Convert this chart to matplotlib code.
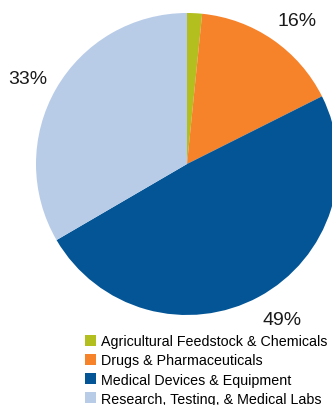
import matplotlib
matplotlib.use("Agg")
import matplotlib.pyplot as plt
from matplotlib.patches import Patch

categories = ["Agricultural Feedstock & Chemicals", "Drugs & Pharmaceuticals",
              "Medical Devices & Equipment", "Research, Testing, & Medical Labs"]
values = [1.6, 16.0, 49.0, 33.4]
labels = ["", "16%", "49%", "33%"]
colors = ["#B3BE1F", "#F6822A", "#035596", "#B8CCE8"]

plt.rcParams['font.family'] = ['Liberation Sans', 'DejaVu Sans']

W, H = 332, 406
fig = plt.figure(figsize=(W / 100, H / 100), dpi=100)
cx, cy, r = 187, 165, 151
ax = fig.add_axes([(cx - r) / W, (H - cy - r) / H, 2 * r / W, 2 * r / H])
wedges, texts = ax.pie(values, labels=labels, colors=colors, startangle=90,
                       counterclock=False, labeldistance=1.2, radius=1,
                       textprops=dict(fontsize=14, color="#1a1a1a"))
# small pixel nudges of the label positions (dx, dy in px, y up)
nudges = [(0, 0), (7, -6), (9, 4), (-2, -5)]
for t, (dx, dy) in zip(texts, nudges):
    x, y = t.get_position()
    t.set_position((x + dx / r, y + dy / r))
    t.set_ha("center")
    t.set_va("center")
ax.set_xlim(-1, 1)
ax.set_ylim(-1, 1)
ax.set_aspect("equal")
ax.axis("off")

handles = [Patch(facecolor=c, edgecolor="none") for c in colors]
fig.legend(handles, categories, loc="upper left", bbox_to_anchor=(85 / W, 1 - 335 / H),
           frameon=False, fontsize=10.3, handlelength=0.8, handleheight=0.8,
           handletextpad=0.35, labelspacing=0.37, borderpad=0, borderaxespad=0)

fig.savefig("out.png", dpi=100)
